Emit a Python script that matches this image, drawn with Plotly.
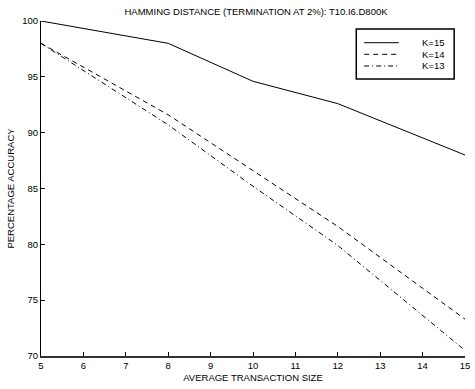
import plotly.graph_objects as go

x_vals = [5, 8, 10, 12, 15]
k15 = [100.0, 98.0, 94.6, 92.6, 88.0]
k14 = [98.0, 91.6, 86.6, 81.6, 73.3]
k13 = [98.0, 90.7, 85.2, 79.9, 70.5]
series_names = ["K=15", "K=14", "K=13"]
series_dash = ["solid", "5px,4px", "5px,3px,1px,3px"]
x_ticks = list(range(5, 16))
y_ticks = [70, 75, 80, 85, 90, 95, 100]

FONT = "Liberation Sans, Arial, sans-serif"
FS = 9.5

fig = go.Figure()
for name, ys, dash in zip(series_names, [k15, k14, k13], series_dash):
    fig.add_trace(go.Scatter(x=x_vals, y=ys, mode="lines", name=name,
                             showlegend=False,
                             line=dict(color="black", width=1, dash=dash)))

# Custom legend box (paper coordinates)
fig.add_shape(type="rect", xref="paper", yref="paper",
              x0=0.7436, x1=0.9744, y0=0.8269, y1=0.9761,
              line=dict(color="black", width=1.5), fillcolor="white", layer="above")
row_y = [0.9352, 0.9006, 0.8657]
for name, dash, yy in zip(series_names, series_dash, row_y):
    fig.add_shape(type="line", xref="paper", yref="paper",
                  x0=0.7622, x1=0.8438, y0=yy, y1=yy,
                  line=dict(color="black", width=1, dash=dash), layer="above")
    fig.add_annotation(xref="paper", yref="paper", x=0.8928, y=yy,
                       xanchor="left", yanchor="middle", text=name,
                       showarrow=False, font=dict(size=FS, family=FONT))

fig.update_layout(
    width=475, height=389,
    margin=dict(l=41, r=5, t=21, b=33),
    paper_bgcolor="white", plot_bgcolor="white",
    font=dict(family=FONT, size=FS, color="black"),
    title=dict(text="HAMMING DISTANCE (TERMINATION AT 2%): T10.I6.D800K",
               x=0.539, xanchor="center", y=0.969, yanchor="middle",
               font=dict(size=FS, family=FONT)),
    showlegend=False,
    xaxis=dict(range=[5, 15], tickvals=x_ticks, ticks="inside", ticklen=4,
               tickcolor="black", showline=True, linecolor="#333", linewidth=1.5,
               showgrid=False, zeroline=False, ticklabeloverflow="allow",
               title=dict(text="AVERAGE TRANSACTION SIZE", standoff=4,
                          font=dict(size=FS)),
               tickfont=dict(size=FS)),
    yaxis=dict(range=[70, 100], tickvals=y_ticks, ticks="inside", ticklen=4,
               tickcolor="black", showline=True, linecolor="black", linewidth=1,
               showgrid=False, zeroline=False, ticklabeloverflow="allow",
               title=dict(text="PERCENTAGE ACCURACY", standoff=5,
                          font=dict(size=FS)),
               tickfont=dict(size=FS)),
)

fig.write_html("out.html")
